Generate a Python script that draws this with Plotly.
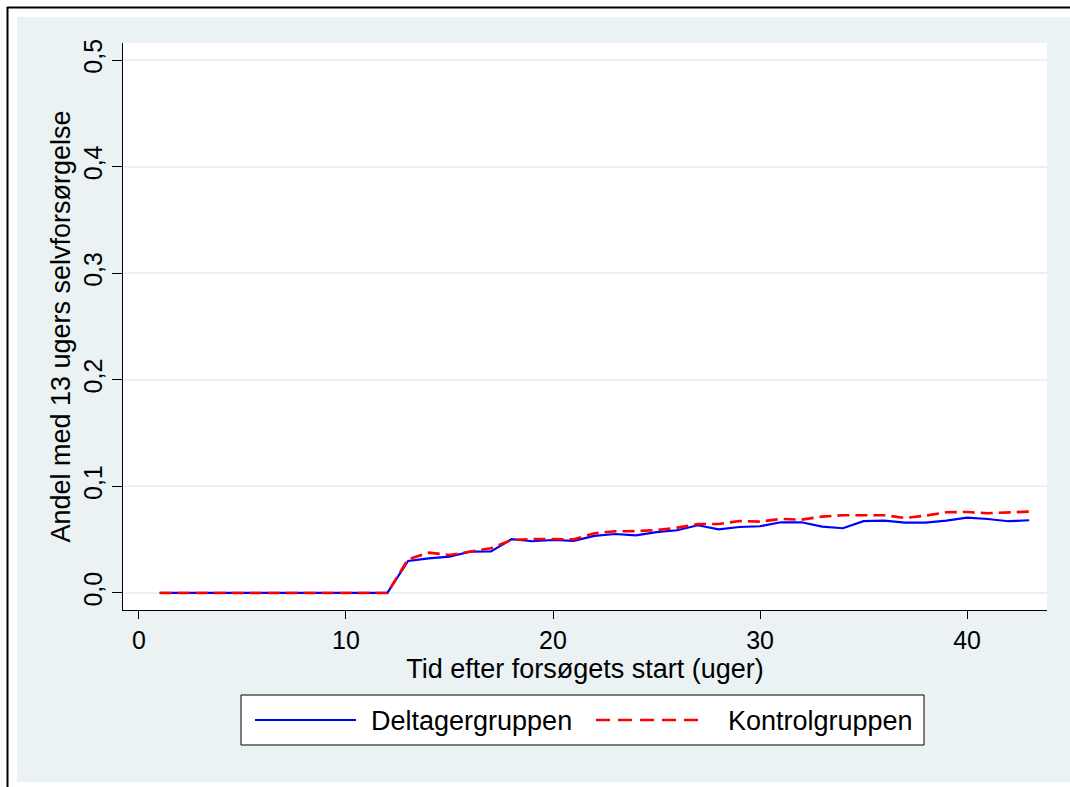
import plotly.graph_objects as go

# Weeks since the start of the trial
weeks = list(range(1, 44))

# Share with 13 weeks of self-sufficiency
deltager = [0.0] * 12 + [
    0.030, 0.0325, 0.034, 0.0388, 0.039, 0.0504, 0.0485, 0.0497, 0.0488,
    0.0535, 0.0553, 0.054, 0.057, 0.0588, 0.0635, 0.0597, 0.0619, 0.0626,
    0.0663, 0.0663, 0.0622, 0.0607, 0.0673, 0.0678, 0.066, 0.066, 0.0678,
    0.0707, 0.0694, 0.0673, 0.0682,
]
kontrol = [0.0] * 12 + [
    0.0316, 0.0378, 0.0356, 0.039, 0.042, 0.0497, 0.0506, 0.0506, 0.0503,
    0.056, 0.0579, 0.058, 0.059, 0.0613, 0.0647, 0.0647, 0.0675, 0.0669,
    0.0694, 0.0688, 0.0716, 0.0729, 0.0732, 0.0729, 0.0704, 0.0726, 0.0757,
    0.076, 0.0748, 0.0754, 0.0763,
]

x_ticks = [0, 10, 20, 30, 40]
y_ticks = [0.0, 0.1, 0.2, 0.3, 0.4, 0.5]

names = ["Deltagergruppen", "Kontrolgruppen"]
colors = ["#0000ff", "#ff0000"]

W, H = 1070, 787
L, R, T, B = 123, 1047, 43, 610  # plot area in pixels
BG = "#eaf2f3"
FONT = "Liberation Sans, Arial, sans-serif"
TICK_SIZE = 25
TITLE_SIZE = 27


def px(x):
    return (x - L) / (R - L)


def py(y):
    return (B - y) / (B - T)


fig = go.Figure()
fig.add_trace(go.Scatter(x=weeks, y=deltager, mode="lines", name=names[0],
                         line=dict(color=colors[0], width=2.2)))
fig.add_trace(go.Scatter(x=weeks, y=kontrol, mode="lines", name=names[1],
                         line=dict(color=colors[1], width=2.6, dash="12px,6px")))

shapes = []
# white outer frame with black rule on top and left
for x0, y0, x1, y1 in [(0, 0, W, 17), (0, 0, 17, H), (0, 782, W, H)]:
    shapes.append(dict(type="rect", xref="paper", yref="paper",
                       x0=px(x0), x1=px(x1), y0=py(y0), y1=py(y1),
                       fillcolor="white", line=dict(width=0), layer="below"))
shapes.append(dict(type="line", xref="paper", yref="paper",
                   x0=px(7), x1=px(W), y0=py(7.5), y1=py(7.5),
                   line=dict(color="black", width=2)))
shapes.append(dict(type="line", xref="paper", yref="paper",
                   x0=px(7.5), x1=px(7.5), y0=py(7), y1=py(H),
                   line=dict(color="black", width=2)))

# legend box
lx0, lx1, ly0, ly1 = 241, 924, 695, 745
shapes.append(dict(type="rect", xref="paper", yref="paper",
                   x0=px(lx0), x1=px(lx1), y0=py(ly0), y1=py(ly1),
                   fillcolor="white", line=dict(color="black", width=1)))
ly = (ly0 + ly1) / 2
shapes.append(dict(type="line", xref="paper", yref="paper",
                   x0=px(255), x1=px(356), y0=py(ly), y1=py(ly),
                   line=dict(color=colors[0], width=2.2)))
shapes.append(dict(type="line", xref="paper", yref="paper",
                   x0=px(596), x1=px(702), y0=py(ly), y1=py(ly),
                   line=dict(color=colors[1], width=2.6, dash="14px,8px")))

annotations = [
    dict(text=names[0], xref="paper", yref="paper", x=px(369), y=py(ly + 1),
         xanchor="left", yanchor="middle", showarrow=False,
         font=dict(size=TITLE_SIZE, color="black", family=FONT)),
    dict(text=names[1], xref="paper", yref="paper", x=px(726), y=py(ly + 1),
         xanchor="left", yanchor="middle", showarrow=False,
         font=dict(size=TITLE_SIZE, color="black", family=FONT)),
]

fig.update_layout(
    width=W, height=H,
    margin=dict(l=L, r=W - R, t=T, b=H - B, pad=0),
    paper_bgcolor=BG, plot_bgcolor="white",
    separators=",.",
    showlegend=False,
    font=dict(family=FONT, size=TICK_SIZE, color="black"),
    shapes=shapes, annotations=annotations,
    xaxis=dict(
        range=[-0.77, 43.86], tickvals=x_ticks, ticks="outside", ticklen=8,
        tickcolor="black", showline=True, linecolor="black", linewidth=1,
        showgrid=False, zeroline=False,
        title=dict(text="Tid efter forsøgets start (uger)", standoff=0,
                   font=dict(size=TITLE_SIZE)),
        tickfont=dict(size=TICK_SIZE),
    ),
    yaxis=dict(
        range=[-0.016, 0.516], tickvals=y_ticks, tickformat=".1f",
        ticks="outside", ticklen=10, tickcolor="black", tickangle=-90,
        showline=True, linecolor="black", linewidth=1,
        showgrid=True, gridcolor=BG, gridwidth=2, zeroline=False,
        title=dict(text="Andel med 13 ugers selvforsørgelse", standoff=0,
                   font=dict(size=TITLE_SIZE)),
        tickfont=dict(size=TICK_SIZE),
    ),
)

fig.write_html("out.html")
